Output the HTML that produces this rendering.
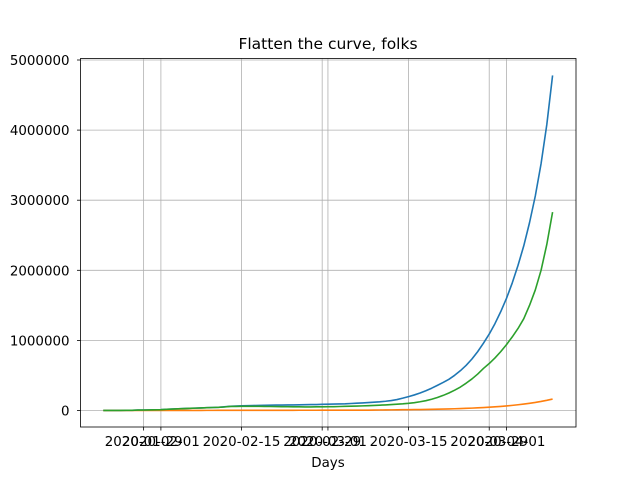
<!DOCTYPE html>
<html><head><meta charset="utf-8"><style>
body{margin:0;background:#fff;}
svg{display:block;font-family:"DejaVu Sans","Liberation Sans",sans-serif;}
</style></head><body>
<svg id="chart" width="640" height="480" xmlns="http://www.w3.org/2000/svg"></svg>
<script>
const seriesBlue=[0.5,0.6,0.9,1.4,2.1,2.9,5.6,6.2,8.2,9.9,12,17,20,24,28,31,34,37,40,43,45,52,60,64,67,69,71,73,75,76,77,78,79,80,81,83,84,85,88,90,92,94,96,100,104,108,113,118,124,132,142,156,176,198,222,250,282,318,358,400,445,502,568,645,735,840,960,1090,1240,1410,1600,1820,2070,2350,2680,3060,3520,4080,4780];
const seriesGreen=[0.5,0.6,0.9,1.4,2.1,2.9,5.6,6.2,8.2,9.9,12,17,20,24,28,31,34,37,40,43,45,50,58,58,59,60,60,59,58,57,56,55,54,53,52,51,51,52,53,54,55,57,59,61,63,66,69,72,76,80,85,90,95,102,112,125,140,160,185,215,250,290,335,390,450,520,600,670,750,840,940,1050,1170,1310,1500,1720,2000,2370,2830];
const seriesOrange=[0,0,0,0,0,0,0.1,0.2,0.3,0.4,0.5,0.6,0.8,1,1.1,1.3,1.5,1.6,1.7,1.8,2,2.1,2.2,2.3,2.4,2.5,2.6,2.7,2.8,2.9,3,3.1,3.2,3.3,3.4,3.5,3.6,3.7,3.8,3.9,4,4.1,4.2,4.3,4.4,4.5,5,6,7,8,9,10,11,12,13,14,15,17,19,21,23,25,28,31,34,38,42,47,52,58,65,73,82,92,103,115,129,145,163];
const yTicks=[0,1000000,2000000,3000000,4000000,5000000];
const xTickDays=[7,10,24,38,39,53,67,70];
const xTickLabels=["2020-01-29","2020-02-01","2020-02-15","2020-02-29","2020-03-01","2020-03-15","2020-03-29","2020-04-01"];
const L=80.5,R=576,T=58.5,B=427;
const xs=d=>103.3+d*5.76;
const ys=v=>410.5-v*70.1/1e6;
const svg=document.getElementById('chart');
const NS='http://www.w3.org/2000/svg';
function mk(tag,attrs,parent){const e=document.createElementNS(NS,tag);for(const k in attrs)e.setAttribute(k,attrs[k]);(parent||svg).appendChild(e);return e;}
xTickDays.forEach((d,i)=>{
  const x=xs(d);
  const g=mk('line',{x1:x,x2:x,y1:T,y2:B,stroke:'#b0b0b0','stroke-width':0.8});
  
  
  mk('line',{x1:x,x2:x,y1:B,y2:B+3.5,stroke:'#000','stroke-width':0.8});
  const t=mk('text',{x:x,y:B+19,'font-size':13.4,'text-anchor':'middle',fill:'#000'});
  t.textContent=xTickLabels[i];
  
  
});
yTicks.forEach(v=>{
  const y=ys(v);
  const g=mk('line',{x1:L,x2:R,y1:y,y2:y,stroke:'#b0b0b0','stroke-width':0.8});
  
  
  mk('line',{x1:L-3.5,x2:L,y1:y,y2:y,stroke:'#000','stroke-width':0.8});
  const t=mk('text',{x:L-11,y:y+5,'font-size':13.4,'text-anchor':'end',fill:'#000'});
  t.textContent=String(v);
  
  
});
function line(arr,color,name){
  const pts=arr.map((v,i)=>xs(i).toFixed(2)+','+ys(v*1000).toFixed(2)).join(' ');
  const p=mk('polyline',{points:pts,fill:'none',stroke:color,'stroke-width':1.6,'stroke-linejoin':'round'});
  
  
}
line(seriesBlue,'#1f77b4','series-confirmed-line');
line(seriesOrange,'#ff7f0e','series-deaths-line');
line(seriesGreen,'#2ca02c','series-active-line');
const f=mk('rect',{x:L,y:T,width:R-L,height:B-T,fill:'none',stroke:'#000','stroke-width':0.8});


const title=mk('text',{x:328,y:49,'font-size':15.5,'text-anchor':'middle',fill:'#000'});
title.textContent='Flatten the curve, folks';


const xl=mk('text',{x:328,y:467,'font-size':13.4,'text-anchor':'middle',fill:'#000'});
xl.textContent='Days';


const yl=mk('text',{x:-4,y:243,'font-size':13.4,'text-anchor':'middle',fill:'#000',transform:'rotate(-90 -4 243)','letter-spacing':'30'});
yl.textContent='Cases count';


</script>
</body></html>
